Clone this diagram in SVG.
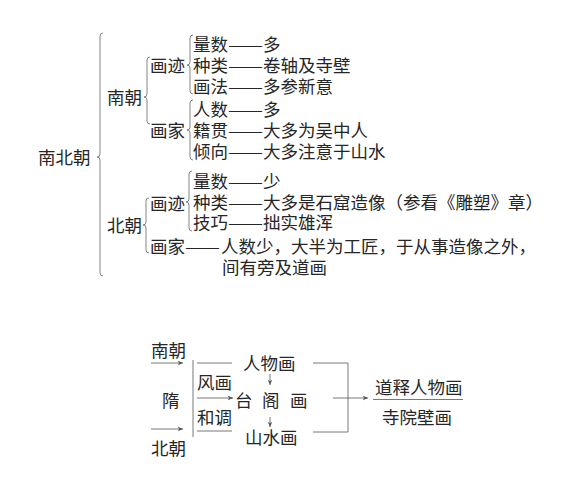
<svg xmlns="http://www.w3.org/2000/svg" width="586" height="481" viewBox="0 0 586 481">
<style>
text{font-family:"Noto Sans CJK SC","Noto Sans CJK TC",sans-serif;font-size:17.5px;fill:#262626;}
.ln{fill:none;stroke:#6a6a6a;stroke-width:0.9;}
.br{fill:none;stroke:#777;stroke-width:0.9;}
</style>
<defs>
<marker id="ah" viewBox="0 0 8 8" refX="7" refY="4" markerWidth="6" markerHeight="6" orient="auto" markerUnits="userSpaceOnUse">
<path d="M0,1 L7,4 L0,7 L2,4 Z" fill="#555"/>
</marker>
</defs>
<rect width="586" height="481" fill="#fff"/>

<g id="braces">
<path class="br" d="M103,33 q-3,0 -3,3 V154 q0,3 -3,3 q3,0 3,3 V273 q0,3 3,3"/>
<path class="br" d="M150,57 q-3,0 -3,3 V94 q0,3 -3,3 q3,0 3,3 V121 q0,3 3,3"/>
<path class="br" d="M193,35 q-3,0 -3,3 V62 q0,3 -3,3 q3,0 3,3 V91 q0,3 3,3"/>
<path class="br" d="M193,100 q-3,0 -3,3 V127 q0,3 -3,3 q3,0 3,3 V157 q0,3 3,3"/>
<path class="br" d="M149,198 q-3,0 -3,3 V222 q0,3 -3,3 q3,0 3,3 V250 q0,3 3,3"/>
<path class="br" d="M192,171 q-3,0 -3,3 V199 q0,3 -3,3 q3,0 3,3 V228 q0,3 3,3"/>
</g>

<g id="n-nanbeichao"><text x="38" y="163.5">南北朝</text></g>
<g id="n-nanchao"><text x="107" y="103.5">南朝</text></g>
<g id="n-nan-huaji"><text x="150" y="71.5">画迹</text></g>
<g id="n-nan-huajia"><text x="150" y="136.5">画家</text></g>
<g id="n-nan-items">
<text y="50.5"><tspan x="193">量数</tspan><tspan x="228" textLength="35" lengthAdjust="spacingAndGlyphs">——</tspan><tspan x="263">多</tspan></text>
<text y="71.5"><tspan x="193">种类</tspan><tspan x="228" textLength="35" lengthAdjust="spacingAndGlyphs">——</tspan><tspan x="263">卷轴及寺壁</tspan></text>
<text y="92.5"><tspan x="193">画法</tspan><tspan x="228" textLength="35" lengthAdjust="spacingAndGlyphs">——</tspan><tspan x="263">多参新意</tspan></text>
<text y="115.5"><tspan x="193">人数</tspan><tspan x="228" textLength="35" lengthAdjust="spacingAndGlyphs">——</tspan><tspan x="263">多</tspan></text>
<text y="136.5"><tspan x="193">籍贯</tspan><tspan x="228" textLength="35" lengthAdjust="spacingAndGlyphs">——</tspan><tspan x="263">大多为吴中人</tspan></text>
<text y="157.5"><tspan x="193">倾向</tspan><tspan x="228" textLength="35" lengthAdjust="spacingAndGlyphs">——</tspan><tspan x="263">大多注意于山水</tspan></text>
</g>
<g id="n-beichao"><text x="107" y="231.5">北朝</text></g>
<g id="n-bei-huaji"><text x="150" y="209.5">画迹</text></g>
<g id="n-bei-items">
<text y="188"><tspan x="193">量数</tspan><tspan x="228" textLength="35" lengthAdjust="spacingAndGlyphs">——</tspan><tspan x="263">少</tspan></text>
<text y="208.5"><tspan x="193">种类</tspan><tspan x="228" textLength="35" lengthAdjust="spacingAndGlyphs">——</tspan><tspan x="263 280.5 298 315.5 333 350.5 368 385.5 403 420.5 438 455.5 473 490.5 508 525.5">大多是石窟造像（参看《雕塑》章）</tspan></text>
<text y="228.5"><tspan x="193">技巧</tspan><tspan x="228" textLength="35" lengthAdjust="spacingAndGlyphs">——</tspan><tspan x="263">拙实雄浑</tspan></text>
</g>
<g id="n-bei-huajia">
<text y="253"><tspan x="150">画家</tspan><tspan x="185" textLength="35" lengthAdjust="spacingAndGlyphs">——</tspan><tspan x="221 238.5 256 273.5 291 308.5 326 343.5 361 378.5 396 413.5 431 448.5 466 483.5 501 518.5">人数少，大半为工匠，于从事造像之外，</tspan></text>
<text x="222" y="273.5">间有旁及道画</text>
</g>

<g id="connectors">
<line class="ln" x1="151" y1="363" x2="183" y2="363" marker-end="url(#ah)"/>
<line class="ln" x1="151" y1="429" x2="183" y2="429" marker-end="url(#ah)"/>
<line class="ln" x1="193" y1="360" x2="193" y2="437"/>
<line class="ln" x1="197" y1="363" x2="232" y2="363"/>
<line class="ln" x1="197" y1="431" x2="232" y2="431"/>
<line class="ln" x1="197" y1="398" x2="233" y2="398" marker-end="url(#ah)"/>
<line class="ln" x1="270" y1="374" x2="270" y2="385" marker-end="url(#ah)"/>
<line class="ln" x1="270" y1="417" x2="270" y2="427" marker-end="url(#ah)"/>
<polyline class="ln" points="313,363 348,363 348,432 313,432"/>
<line class="ln" x1="333" y1="398" x2="368" y2="398" marker-end="url(#ah)"/>
<line class="ln" x1="373" y1="399.5" x2="463" y2="399.5"/>
</g>

<g id="n-nanchao2"><text x="151" y="356.5">南朝</text></g>
<g id="n-sui"><text x="162" y="406.5">隋</text></g>
<g id="n-beichao2"><text x="151" y="454.5">北朝</text></g>
<g id="n-fenghua"><text x="197" y="388.5">风画</text></g>
<g id="n-hetiao"><text x="197" y="423.5">和调</text></g>
<g id="n-renwuhua"><text x="243" y="369.5">人物画</text></g>
<g id="n-taigehua"><text y="406.5"><tspan x="235">台</tspan><tspan x="262">阁</tspan><tspan x="290">画</tspan></text></g>
<g id="n-shanshuihua"><text x="245" y="443.5">山水画</text></g>
<g id="n-result">
<text x="375" y="393.5">道释人物画</text>
<text x="382" y="423.5">寺院壁画</text>
</g>
</svg>
